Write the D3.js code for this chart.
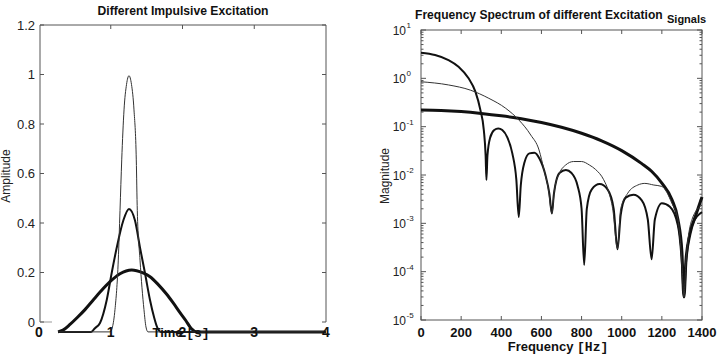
<!DOCTYPE html>
<html><head><meta charset="utf-8">
<script src="https://cdn.jsdelivr.net/npm/d3@7"></script>
<style>body{margin:0;background:#fff} svg{display:block}</style>
</head><body>
<svg id="c" width="717" height="355"></svg>
<script>
// ---------- Left chart data (time domain) ----------
const timeTicks = [0, 1, 2, 3, 4];
const ampTicks = [0, 0.2, 0.4, 0.6, 0.8, 1, 1.2];
const ampTickLabels = ["0", "0.2", "0.4", "0.6", "0.8", "1", "1.2"];

const pulseNarrowT = [0.265, 0.990, 1.024, 1.059, 1.105, 1.129, 1.153, 1.185, 1.220, 1.254, 1.289, 1.324, 1.356, 1.370, 1.408, 1.463, 1.491, 1.519, 4.0];
const pulseNarrowV = [-0.04, -0.04, -0.02, 0.05, 0.25, 0.45, 0.655, 0.857, 0.96, 0.995, 0.96, 0.857, 0.655, 0.45, 0.25, 0.05, -0.02, -0.04, -0.04];

const pulseMediumT = [0.265, 0.725, 0.780, 0.850, 0.944, 1.013, 1.083, 1.175, 1.254, 1.338, 1.408, 1.477, 1.547, 1.603, 1.645, 1.700, 4.0];
const pulseMediumV = [-0.04, -0.04, -0.025, -0.004, 0.089, 0.198, 0.30, 0.41, 0.457, 0.41, 0.30, 0.198, 0.089, 0.02, -0.02, -0.04, -0.04];

const pulseWideT = [0.265, 0.334, 0.432, 0.530, 0.641, 0.753, 0.864, 0.990, 1.129, 1.292, 1.449, 1.547, 1.659, 1.780, 1.868, 1.965, 2.048, 2.118, 2.202, 4.0];
const pulseWideV = [-0.04, -0.033, -0.01, 0.017, 0.05, 0.088, 0.125, 0.163, 0.195, 0.21, 0.198, 0.183, 0.152, 0.112, 0.078, 0.038, 0.005, -0.025, -0.04, -0.04];

// ---------- Right chart data (frequency domain) ----------
const freqTicks = [0, 200, 400, 600, 800, 1000, 1200, 1400];
const decadeExps = [1, 0, -1, -2, -3, -4, -5];

const specBroadF = [0, 100, 200, 300, 400, 500, 600, 700, 800, 900, 1000, 1100, 1150, 1200, 1250, 1280, 1300, 1310, 1320, 1340, 1370, 1400];
const specBroadM = [0.22, 0.216, 0.205, 0.188, 0.168, 0.146, 0.122, 0.097, 0.073, 0.051, 0.032, 0.0172, 0.0118, 0.0068, 0.0031, 0.0012, 0.00025, 0.00003, 0.00017, 0.0006, 0.0015, 0.0035];

const specNarrowF = [0, 70, 137, 187, 237, 271, 296, 313, 322, 326, 331, 345, 365, 385, 405, 430, 455, 475, 487, 497, 515, 540, 565, 590, 620, 640, 652, 662, 690, 722, 750, 780, 800, 813, 826, 850, 890, 930, 960, 979, 995, 1020, 1058, 1100, 1130, 1149, 1165, 1200, 1240, 1280, 1300, 1310, 1320, 1350, 1400];
const specNarrowM = [3.39, 3.04, 2.39, 1.74, 1.0, 0.53, 0.22, 0.085, 0.025, 0.0079, 0.025, 0.06, 0.085, 0.092, 0.085, 0.06, 0.028, 0.008, 0.00135, 0.006, 0.018, 0.028, 0.029, 0.022, 0.01, 0.004, 0.0016, 0.004, 0.011, 0.0127, 0.011, 0.006, 0.002, 0.000137, 0.002, 0.005, 0.0065, 0.005, 0.002, 0.00029, 0.0015, 0.0034, 0.0039, 0.003, 0.0012, 0.00018, 0.0012, 0.0026, 0.0022, 0.0009, 0.00015, 0.00003, 0.00015, 0.0009, 0.0017];

const specMidF = [0, 137, 246, 338, 422, 488, 547, 588, 613, 635, 652, 665, 690, 720, 760, 800, 840, 870, 910, 935, 955, 979, 995, 1030, 1080, 1115, 1160, 1200, 1250, 1280, 1300, 1310, 1320, 1350, 1400];
const specMidM = [0.85, 0.73, 0.57, 0.386, 0.24, 0.137, 0.067, 0.033, 0.0126, 0.005, 0.0016, 0.005, 0.011, 0.016, 0.019, 0.019, 0.016, 0.013, 0.008, 0.0045, 0.002, 0.0003, 0.002, 0.0042, 0.0062, 0.0067, 0.0062, 0.0058, 0.0026, 0.0012, 0.00015, 0.00003, 0.00016, 0.0012, 0.0024];

// ---------- drawing ----------
const svg = d3.select("#c");
const FONT = "'Liberation Sans', Arial, Helvetica, sans-serif";
const MONO = "'Liberation Mono', 'Courier New', monospace";
const AX = "#555";
const INK = "#111";

// fit a text's font size so that its natural width equals the wanted width
function fitText(sel, width, maxSize) {
  const n = sel.node();
  const w = n.getComputedTextLength();
  if (w > 0) sel.attr("font-size", Math.min(maxSize, maxSize * width / w));
  return sel;
}

// ===== Left chart =====
const xL = d3.scaleLinear().domain([0, 4]).range([39, 326]);
const yL = d3.scaleLinear().domain([0, 1.2]).range([322, 25]);
const gL = svg.append("g");
const lx0 = 40, lx1 = 326;

gL.append("line").attr("x1", lx0).attr("x2", lx0).attr("y1", yL(1.2)).attr("y2", yL(0)).attr("stroke", AX);
gL.append("line").attr("x1", lx0).attr("x2", lx1).attr("y1", yL(1.2)).attr("y2", yL(1.2)).attr("stroke", AX);
gL.append("line").attr("x1", lx1).attr("x2", lx1).attr("y1", yL(1.2)).attr("y2", yL(0)).attr("stroke", AX);
gL.append("line").attr("x1", lx0).attr("x2", lx0 + 12).attr("y1", yL(0)).attr("y2", yL(0)).attr("stroke", "#999");

ampTicks.forEach((v, i) => {
  gL.append("line").attr("x1", lx0).attr("x2", lx0 + 4).attr("y1", yL(v)).attr("y2", yL(v)).attr("stroke", AX);
  gL.append("line").attr("x1", lx1 - 4).attr("x2", lx1).attr("y1", yL(v)).attr("y2", yL(v)).attr("stroke", AX);
  gL.append("text").attr("x", 35).attr("y", yL(v)).attr("dy", "0.35em")
    .attr("text-anchor", "end").attr("font-family", FONT).attr("font-size", 13).attr("fill", "#222")
    .text(ampTickLabels[i]);
});
timeTicks.slice(1, 4).forEach(t => {
  gL.append("line").attr("x1", xL(t)).attr("x2", xL(t)).attr("y1", yL(1.2)).attr("y2", yL(1.2) + 4).attr("stroke", AX);
});

const lineL = d3.line().x(d => xL(d[0])).y(d => yL(d[1])).curve(d3.curveMonotoneX);
const zipL = (T, V) => T.map((t, i) => [t, V[i]]);
gL.append("path").attr("d", lineL(zipL(pulseWideT, pulseWideV))).attr("fill", "none").attr("stroke", INK).attr("stroke-width", 3);
gL.append("path").attr("d", lineL(zipL(pulseMediumT, pulseMediumV))).attr("fill", "none").attr("stroke", INK).attr("stroke-width", 2);
gL.append("path").attr("d", lineL(zipL(pulseNarrowT, pulseNarrowV))).attr("fill", "none").attr("stroke", "#333").attr("stroke-width", 1);

timeTicks.forEach(t => {
  gL.append("text").attr("x", xL(t)).attr("y", 337).attr("text-anchor", "middle")
    .attr("font-family", FONT).attr("font-weight", "bold").attr("font-size", 14).attr("fill", INK).text(t);
});
const tl = gL.append("text").attr("x", 181).attr("y", 337).attr("text-anchor", "middle")
  .attr("font-family", FONT).attr("font-weight", "bold").attr("font-size", 13).attr("fill", INK);
tl.append("tspan").text("Time ");
tl.append("tspan").attr("font-family", MONO).text("[s]");

gL.append("text").attr("x", 183).attr("y", 15).attr("text-anchor", "middle")
  .attr("font-family", FONT).attr("font-weight", "bold").attr("font-size", 13)
  .attr("textLength", 171).attr("lengthAdjust", "spacingAndGlyphs").attr("fill", INK)
  .text("Different Impulsive Excitation");
gL.append("text").attr("transform", "translate(10,176) rotate(-90)").attr("text-anchor", "middle")
  .attr("font-family", FONT).attr("font-size", 12).attr("fill", "#222").text("Amplitude");

// ===== Right chart =====
const xR = d3.scaleLinear().domain([0, 1400]).range([421, 702]);
const yR = d3.scaleLog().domain([1e-5, 10]).range([320, 30]);
const gR = svg.append("g");
gR.append("rect").attr("x", xR(0)).attr("y", yR(10)).attr("width", xR(1400) - xR(0)).attr("height", yR(1e-5) - yR(10))
  .attr("fill", "none").attr("stroke", AX);

decadeExps.forEach(e => {
  const v = Math.pow(10, e);
  const y = yR(v);
  gR.append("line").attr("x1", xR(0)).attr("x2", xR(0) + 5).attr("y1", y).attr("y2", y).attr("stroke", AX);
  gR.append("line").attr("x1", xR(1400) - 5).attr("x2", xR(1400)).attr("y1", y).attr("y2", y).attr("stroke", AX);
  gR.append("text").attr("x", 406).attr("y", y + 4.5).attr("text-anchor", "end")
    .attr("font-family", FONT).attr("font-size", 12).attr("fill", "#222").text("10");
  gR.append("text").attr("x", 406.5).attr("y", y - 2).attr("text-anchor", "start")
    .attr("font-family", FONT).attr("font-size", 8).attr("fill", "#222").text(String(e));
  if (e < 1) {
    for (let m = 2; m <= 9; m++) {
      const ym = yR(m * v);
      gR.append("line").attr("x1", xR(0)).attr("x2", xR(0) + 2.5).attr("y1", ym).attr("y2", ym).attr("stroke", AX);
      gR.append("line").attr("x1", xR(1400) - 2.5).attr("x2", xR(1400)).attr("y1", ym).attr("y2", ym).attr("stroke", AX);
    }
  }
});
freqTicks.forEach(f => {
  gR.append("line").attr("x1", xR(f)).attr("x2", xR(f)).attr("y1", yR(1e-5)).attr("y2", yR(1e-5) - 4).attr("stroke", AX);
  gR.append("line").attr("x1", xR(f)).attr("x2", xR(f)).attr("y1", yR(10)).attr("y2", yR(10) + 4).attr("stroke", AX);
  gR.append("text").attr("x", xR(f)).attr("y", 337).attr("text-anchor", "middle")
    .attr("font-family", FONT).attr("font-weight", "bold").attr("font-size", 13).attr("fill", INK).text(f);
});

const lineR = d3.line().x(d => xR(d[0])).y(d => yR(d[1])).curve(d3.curveMonotoneX);
const zipR = (F, M) => F.map((f, i) => [f, M[i]]);
gR.append("path").attr("d", lineR(zipR(specBroadF, specBroadM))).attr("fill", "none").attr("stroke", INK).attr("stroke-width", 3);
gR.append("path").attr("d", lineR(zipR(specNarrowF, specNarrowM))).attr("fill", "none").attr("stroke", INK).attr("stroke-width", 2);
gR.append("path").attr("d", lineR(zipR(specMidF, specMidM))).attr("fill", "none").attr("stroke", "#333").attr("stroke-width", 1);

const fl = gR.append("text").attr("x", 558).attr("y", 351).attr("text-anchor", "middle")
  .attr("font-family", FONT).attr("font-weight", "bold").attr("font-size", 13).attr("fill", INK);
fl.append("tspan").text("Frequency ");
fl.append("tspan").attr("font-family", MONO).text("[Hz]");

const rt = gR.append("text").attr("x", 415).attr("y", 19).attr("text-anchor", "start")
  .attr("font-family", FONT).attr("font-size", 13).attr("font-weight", "bold").attr("fill", INK)
  .text("Frequency Spectrum of different Excitation");
fitText(rt, 248, 13);
const st = gR.append("text").attr("x", 667).attr("y", 23).attr("text-anchor", "start")
  .attr("font-family", FONT).attr("font-size", 11).attr("font-weight", "bold").attr("fill", INK)
  .text("Signals");
fitText(st, 41, 11);
gR.append("text").attr("transform", "translate(389,176) rotate(-90)").attr("text-anchor", "middle")
  .attr("font-family", FONT).attr("font-size", 12).attr("fill", "#222").text("Magnitude");
</script>
</body></html>
